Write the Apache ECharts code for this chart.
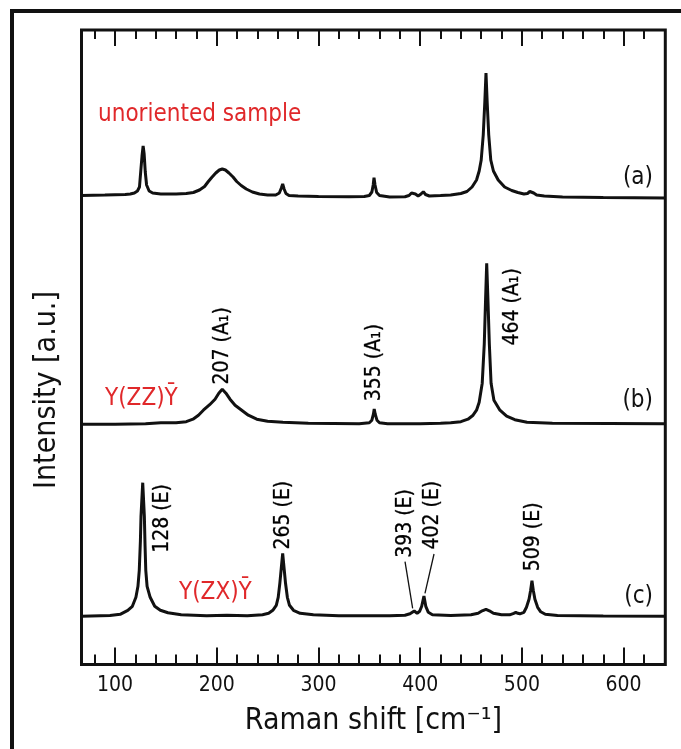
<!DOCTYPE html>
<html>
<head>
<meta charset="utf-8">
<script src="https://cdn.jsdelivr.net/npm/echarts@6/dist/echarts.min.js"></script>
<style>
  html, body { margin: 0; background: #fff; }
  #chart { width: 681px; height: 749px; }
</style>
</head>
<body>
<div id="chart"></div>
<script>
// Raman spectra, [shift cm-1, intensity above the trace baseline]
const traceA = [
  [67, 2.5], [90, 3], [110, 3.5], [115, 4], [119, 5], [122, 7], [124, 11], [125.2, 26], [126.5, 42],
  [127.6, 52], [128.6, 44], [129.7, 26], [131, 13], [133.5, 7], [137, 5], [145, 4], [160, 4],
  [170, 4.5], [177, 5.5], [183, 8], [188, 11.5], [191.7, 16.5], [195, 20.5], [199, 25], [202.5, 28],
  [205.4, 29], [208.5, 28], [212, 25], [216, 21], [219.6, 16.5], [224, 12.5], [229, 9], [235, 6],
  [242, 4], [250, 3], [258, 3], [261.5, 5], [263.5, 10], [264.8, 14], [266.2, 9], [268, 4.5],
  [271, 2.5], [280, 2], [300, 1.5], [330, 1.3], [345, 1.5], [350, 2.5], [352.5, 6], [353.8, 13],
  [354.6, 20.3], [355.6, 13], [357.2, 5.5], [360, 2.5], [370, 1], [385, 1.2], [389, 2.5], [391.5, 5],
  [393.2, 7], [395.3, 4], [398, 2], [400.8, 4], [403.1, 6.3], [405.2, 3.5], [409, 2], [420, 2.5],
  [430, 3], [440, 4.5], [446, 6.5], [451, 11], [455.4, 18], [458, 27], [460, 38], [462, 63],
  [463.5, 95], [464.7, 125], [465.9, 95], [467.4, 63], [469.4, 38], [472, 27], [476.7, 18],
  [483, 11], [490, 7.5], [496, 5.5], [502, 4], [505.5, 4.5], [507.8, 6.5], [509.6, 7.3], [511.6, 5],
  [514.5, 3], [522, 2], [540, 1], [580, 0.5], [641, 0]
];
const traceB = [
  [67, 0], [100, 0], [130, 0.5], [145, 1.5], [160, 1.5], [170, 2.5], [176.6, 5], [182, 9],
  [186.8, 14], [193, 19.5], [198.3, 25], [202, 31], [205.4, 34.9], [209, 31], [213, 25], [218, 19],
  [224.5, 14], [231, 9], [239.3, 5], [250, 3], [265, 2], [290, 1], [340, 0.5], [350, 1.5],
  [352.5, 4], [354, 10], [354.8, 15.2], [355.8, 10], [357.5, 4], [360, 1.5], [368, 0.5], [400, 0.5],
  [420, 1], [430, 1.5], [440, 2.5], [447, 5], [452, 9], [455.4, 14], [458, 22], [461, 41], [463, 80],
  [464.3, 125], [465.4, 161], [466.6, 125], [468, 80], [469.7, 41], [472.5, 24], [478.4, 14],
  [485, 8], [493, 4.5], [505, 2], [530, 1], [641, 0.5]
];
const traceC = [
  [67, 0], [95, 0.8], [105, 2], [112.5, 6], [117, 10], [120.5, 19], [122.5, 30], [123.8, 46],
  [124.9, 75], [125.5, 100], [127.2, 133.6], [128.8, 100], [129.5, 70], [130.2, 46], [131.5, 30],
  [134.5, 19], [139, 10], [144.5, 6], [152, 3.5], [165, 1.5], [190, 0.5], [210, 1], [230, 0.5],
  [245, 1.5], [251, 3], [255.1, 6], [258.5, 11], [260.4, 19], [262, 33], [263.4, 48], [264.8, 63],
  [266.2, 48], [267.6, 33], [269.4, 19], [271.5, 11], [275.4, 6], [282, 3], [295, 1.5], [320, 0.5],
  [370, 0.5], [385, 1], [390, 2.5], [394.2, 5.3], [397, 3], [399.5, 5], [401.5, 10], [403.7, 20.3],
  [405.5, 10], [408, 4], [412, 1.5], [430, 0.8], [450, 1.5], [457, 3], [461, 5.5], [464.7, 7],
  [468, 5.5], [472, 3], [480, 1.5], [488, 1.5], [492, 3], [494, 4], [496, 3], [498, 2.5], [502, 4],
  [504.5, 9], [507, 17], [508.6, 26], [509.9, 35.6], [511.2, 26], [512.8, 17], [515.5, 9],
  [518.5, 4.5], [523, 2], [535, 0.8], [580, 0.3], [641, 0]
];
// vertical offsets of the three stacked traces
const offsetA = 466.5;
const offsetB = 240.3;
const offsetC = 48.2;

const majorTicks = [100, 200, 300, 400, 500, 600];
const minorTicks = [80, 120, 140, 160, 180, 220, 240, 260, 280, 320, 340, 360, 380,
  420, 440, 460, 480, 520, 540, 560, 580, 620, 640];

// peak annotations: text, [shift, height] where the text starts
const peakLabels = ['207 (A₁)', '355 (A₁)', '464 (A₁)', '128 (E)', '265 (E)', '393 (E)', '402 (E)', '509 (E)'];
const peakLabelPos = [[205.9, 279.5], [355.6, 262.8], [491.5, 318.5], [147.4, 111.2],
  [265.9, 114.5], [386.2, 106.2], [412.4, 114.5], [511.7, 92.8]];
// leader lines for 393 and 402
const leader393 = [[385.1, 102.8], [392.6, 56.2]];
const leader402 = [[413.6, 110.5], [404.7, 71.2]];

const FONT = "'DejaVu Sans Condensed', 'DejaVu Sans', sans-serif";
const INK = '#111';
const RED = '#e0282a';

const chart = echarts.init(document.getElementById('chart'), null, { renderer: 'canvas' });

function shifted(trace, off) {
  return trace.map(([x, h]) => [x, h + off]);
}

function tickAxis(pos, values, len, labels) {
  return {
    type: 'value', position: pos, min: 67, max: 641,
    axisLine: { show: false },
    splitLine: { show: false },
    axisTick: { show: true, inside: true, length: len, customValues: values, lineStyle: { color: INK, width: 2 } },
    axisLabel: labels
      ? { show: true, customValues: values, margin: 11, fontSize: 21, fontFamily: FONT, color: INK }
      : { show: false }
  };
}

const xBottom = tickAxis('bottom', majorTicks, 17, true);
xBottom.name = 'Raman shift [cm⁻¹]';
xBottom.nameLocation = 'middle';
xBottom.nameGap = 42;
xBottom.nameTextStyle = { fontSize: 30, fontFamily: FONT, color: INK };

const lineStyle = { color: INK, width: 3 };

chart.setOption({
  backgroundColor: '#fff',
  animation: false,
  grid: { left: 81.5, right: 15.7, top: 30, bottom: 84.5, show: true, borderColor: INK, borderWidth: 3 },
  xAxis: [
    xBottom,
    tickAxis('bottom', minorTicks, 10, false),
    tickAxis('top', majorTicks, 16, false),
    tickAxis('top', minorTicks, 9, false)
  ],
  yAxis: {
    type: 'value', min: 0, max: 634.5,
    axisLine: { show: false }, axisTick: { show: false }, axisLabel: { show: false }, splitLine: { show: false }
  },
  series: [
    { type: 'line', data: shifted(traceA, offsetA), showSymbol: false, lineStyle },
    { type: 'line', data: shifted(traceB, offsetB), showSymbol: false, lineStyle },
    { type: 'line', data: shifted(traceC, offsetC), showSymbol: false, lineStyle },
    { type: 'line', data: leader393, showSymbol: false, lineStyle: { color: INK, width: 1.3 } },
    { type: 'line', data: leader402, showSymbol: false, lineStyle: { color: INK, width: 1.3 } },
    {
      type: 'scatter', data: peakLabelPos, symbolSize: 1, itemStyle: { color: 'rgba(0,0,0,0)' },
      label: {
        show: true, position: [0, 0], rotate: 90, align: 'left', verticalAlign: 'middle',
        formatter: p => peakLabels[p.dataIndex],
        fontSize: 21, fontFamily: FONT, color: '#000', opacity: 1,
        textBorderColor: '#000', textBorderWidth: 0.3
      },
      labelLayout: { hideOverlap: false }
    }
  ],
  graphic: [
    { type: 'rect', shape: { x: 12, y: 11, width: 720, height: 800 }, style: { fill: null, stroke: INK, lineWidth: 4 } },
    { type: 'text', x: 47, y: 390, rotation: Math.PI / 2,
      style: { text: 'Intensity [a.u.]', font: '30px ' + FONT, fill: INK, align: 'center', verticalAlign: 'middle' } },
    { type: 'text', x: 98, y: 115, style: { text: 'unoriented sample', font: '24px ' + FONT, fill: RED, verticalAlign: 'middle' } },
    { type: 'text', x: 105, y: 399, style: { text: 'Y(ZZ)Ȳ', font: '24px ' + FONT, fill: RED, verticalAlign: 'middle' } },
    { type: 'text', x: 179, y: 593, style: { text: 'Y(ZX)Ȳ', font: '24px ' + FONT, fill: RED, verticalAlign: 'middle' } },
    { type: 'text', x: 653, y: 178, style: { text: '(a)', font: '24px ' + FONT, fill: INK, align: 'right', verticalAlign: 'middle' } },
    { type: 'text', x: 653, y: 401, style: { text: '(b)', font: '24px ' + FONT, fill: INK, align: 'right', verticalAlign: 'middle' } },
    { type: 'text', x: 653, y: 597, style: { text: '(c)', font: '24px ' + FONT, fill: INK, align: 'right', verticalAlign: 'middle' } }
  ]
});
</script>
</body>
</html>
